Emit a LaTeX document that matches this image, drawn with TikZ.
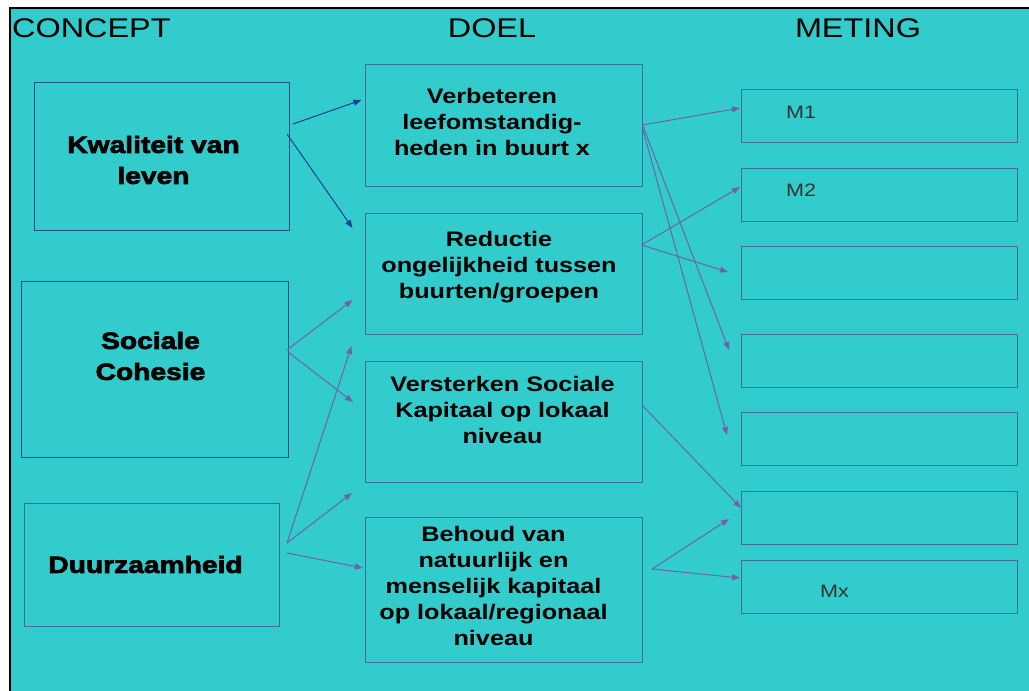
\documentclass[tikz,border=0pt]{standalone}
\usepackage{fontspec}
\setmainfont{Liberation Sans}[FakeStretch=1.2]
\newfontfamily\heavyfont{Liberation Sans Bold}[FakeStretch=1.2,FakeBold=3]
\usetikzlibrary{arrows.meta}
\definecolor{turq}{RGB}{51,204,204}
\definecolor{darkedge}{RGB}{35,75,140}
\definecolor{softedge}{RGB}{60,110,160}
\definecolor{darkarrow}{RGB}{30,60,155}
\definecolor{softarrow}{RGB}{110,100,165}

\begin{document}
\begin{tikzpicture}[x=1pt,y=-1pt,
  Box/.style={draw=softedge,line width=1pt,inner sep=0pt,outer sep=0pt},
  ConceptBox/.style={Box,draw=darkedge,minimum width=#1},
  DoelBox/.style={Box,minimum width=277pt},
  MetingBox/.style={Box,minimum width=276pt,minimum height=53pt},
  Head/.style={font=\fontsize{27}{30}\selectfont,inner sep=0pt},
  ConceptText/.style={font=\fontsize{23.5}{31}\heavyfont,align=center,inner sep=0pt},
  DoelText/.style={font=\fontsize{21}{26}\selectfont\bfseries,align=center,inner sep=0pt},
  MetingText/.style={font=\fontsize{18}{20}\selectfont,text=black!80,inner sep=0pt,anchor=base west},
  Link/.style={softarrow,line width=1pt,-{Triangle[length=8pt,width=6pt]}},
  DarkLink/.style={Link,darkarrow}]
\useasboundingbox (0,0) rectangle (1029,691);
\fill[white] (0,0) rectangle (1029,691);
\fill[turq] (10,8) rectangle (1029,691);
\draw[line width=2pt] (10,691) -- (10,8) -- (1029,8);

\node[Head,anchor=base west] (concept) at (12,37) {CONCEPT};
\node[Head,anchor=base] (doel) at (492,37) {DOEL};
\node[Head,anchor=base] (meting) at (858,37) {METING};

\node[ConceptBox=255pt,minimum height=148pt] (kwal) at (161.5,156) {};
\node[ConceptBox=267pt,minimum height=176pt] (soc) at (154.5,369) {};
\node[ConceptBox=255pt,minimum height=123pt,draw=softedge] (duur) at (151.5,564.5) {};
\node[ConceptText] (kwal-t) at ([xshift=-8pt,yshift=-4pt]kwal) {Kwaliteit van\\leven};
\node[ConceptText] (soc-t) at ([xshift=-4pt,yshift=13pt]soc) {Sociale\\Cohesie};
\node[ConceptText] (duur-t) at ([xshift=-6pt]duur) {Duurzaamheid};

\node[DoelBox,minimum height=122pt] (verb) at (504,125) {};
\node[DoelBox,minimum height=121pt] (red) at (504,273.5) {};
\node[DoelBox,minimum height=121pt] (vers) at (503.5,421.5) {};
\node[DoelBox,minimum height=145pt] (beh) at (503.5,589.5) {};
\node[DoelText] (verb-t) at ([xshift=-12pt,yshift=3pt]verb) {Verbeteren\\leefomstandig-\\heden in buurt x};
\node[DoelText] (red-t) at ([xshift=-5pt,yshift=6pt]red) {Reductie\\ongelijkheid tussen\\buurten/groepen};
\node[DoelText] (vers-t) at ([xshift=-1pt,yshift=12pt]vers) {Versterken Sociale\\Kapitaal op lokaal\\niveau};
\node[DoelText] (beh-t) at ([xshift=-10pt,yshift=4pt]beh) {Behoud van\\natuurlijk en\\menselijk kapitaal\\op lokaal/regionaal\\niveau};

\node[MetingBox] (m1) at (879,116) {};
\node[MetingBox] (m2) at (879,194.5) {};
\node[MetingBox] (m3) at (879,273) {};
\node[MetingBox] (m4) at (879,360.5) {};
\node[MetingBox] (m5) at (879,438.5) {};
\node[MetingBox] (m6) at (879,518) {};
\node[MetingBox] (mx) at (879,587) {};
\node[MetingText] (m1-t) at ([xshift=45pt,yshift=-2pt]m1.west) {M1};
\node[MetingText] (m2-t) at ([xshift=45pt,yshift=-1.5pt]m2.west) {M2};
\node[MetingText] (mx-t) at ([xshift=79pt,yshift=-10pt]mx.west) {Mx};

\draw[DarkLink] ([xshift=4pt,yshift=32pt]kwal.east) -- ([xshift=-4pt,yshift=25pt]verb.west);
\draw[DarkLink] ([xshift=-2pt,yshift=22pt]kwal.east) -- ([xshift=-13pt,yshift=45.5pt]red.west);
\draw[Link] ([xshift=-1pt,yshift=19pt]soc.east) -- ([xshift=-13pt,yshift=-26.5pt]red.west);
\draw[Link] ([yshift=17pt]soc.east) -- ([xshift=-12pt,yshift=19.5pt]vers.west);
\draw[Link] ([xshift=8pt,yshift=21.5pt]duur.east) -- ([xshift=-14pt,yshift=-12pt]red.south west);
\draw[Link] ([xshift=8pt,yshift=21.5pt]duur.east) -- ([xshift=-13pt,yshift=-11pt]vers.south west);
\draw[Link] ([xshift=8pt,yshift=11.5pt]duur.east) -- ([xshift=-2pt,yshift=21.5pt]beh.west);

\draw[Link] (verb.east) -- ([xshift=-1pt,yshift=8pt]m1.west);
\draw[Link] (verb.east) -- ([xshift=-12pt,yshift=10.5pt]m4.west);
\draw[Link] ([yshift=-3pt]verb.east) -- ([xshift=-14pt,yshift=3.5pt]m5.west);
\draw[Link] ([xshift=-1pt,yshift=28.5pt]red.east) -- ([xshift=-1pt,yshift=7.5pt]m2.west);
\draw[Link] ([xshift=-1pt,yshift=28.5pt]red.east) -- ([xshift=-13pt,yshift=1pt]m3.west);
\draw[Link] ([yshift=16.5pt]vers.east) -- ([yshift=10pt]m6.west);
\draw[Link] ([xshift=10pt,yshift=20.5pt]beh.east) -- ([xshift=-12pt,yshift=-1pt]m6.west);
\draw[Link] ([xshift=10pt,yshift=20.5pt]beh.east) -- ([xshift=-1pt,yshift=9pt]mx.west);
\end{tikzpicture}
\end{document}
